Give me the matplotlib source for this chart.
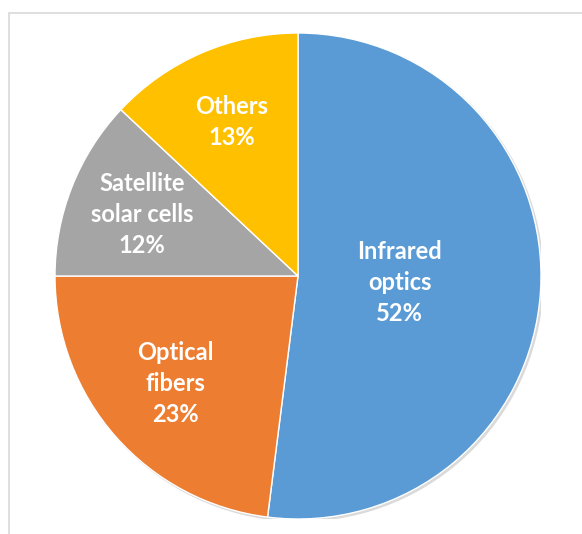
import matplotlib
matplotlib.use('Agg')
import matplotlib.pyplot as plt
import matplotlib.patches as mpatches
import numpy as np

# data
labels = ["Infrared\noptics", "Optical\nfibers", "Satellite\nsolar cells", "Others"]
shares = [52, 23, 12, 13]
colors = ["#5B9BD5", "#ED7D31", "#A5A5A5", "#FFC000"]
label_dist = [0.42, 0.67, 0.69, 0.69]

W, H = 582, 534
fig = plt.figure(figsize=(W / 100, H / 100), dpi=100)
fig.patch.set_facecolor('white')

# chart frame (only left/top edges visible in the crop)
frame = mpatches.Rectangle((9 / W, -0.1), 1.2, (H - 13) / H + 0.1,
                           transform=fig.transFigure, fill=False,
                           edgecolor='#D9D9D9', linewidth=1.2)
fig.add_artist(frame)

cx, cy, r = 298, H - 276, 243
ax = fig.add_axes([(cx - r) / W, (cy - r) / H, 2 * r / W, 2 * r / H])

# faint drop shadow behind the pie
shadow = mpatches.Circle((0.008, -0.008), 1.0, color='#DADADA', zorder=0)
ax.add_patch(shadow)

wedges, _ = ax.pie(shares, colors=colors, startangle=90, counterclock=False,
                   radius=1.0, wedgeprops=dict(edgecolor='white', linewidth=1.0))
ax.set_xlim(-1, 1)
ax.set_ylim(-1, 1)
ax.set_aspect('equal')
ax.axis('off')

for w, lab, val, d in zip(wedges, labels, shares, label_dist):
    ang = np.deg2rad((w.theta1 + w.theta2) / 2)
    ax.text(d * np.cos(ang), d * np.sin(ang), f"{lab}\n{val}%",
            ha='center', va='center', color='white', fontsize=17,
            fontweight='bold', family='Lato', linespacing=1.42)

fig.savefig("out.png", dpi=100)
